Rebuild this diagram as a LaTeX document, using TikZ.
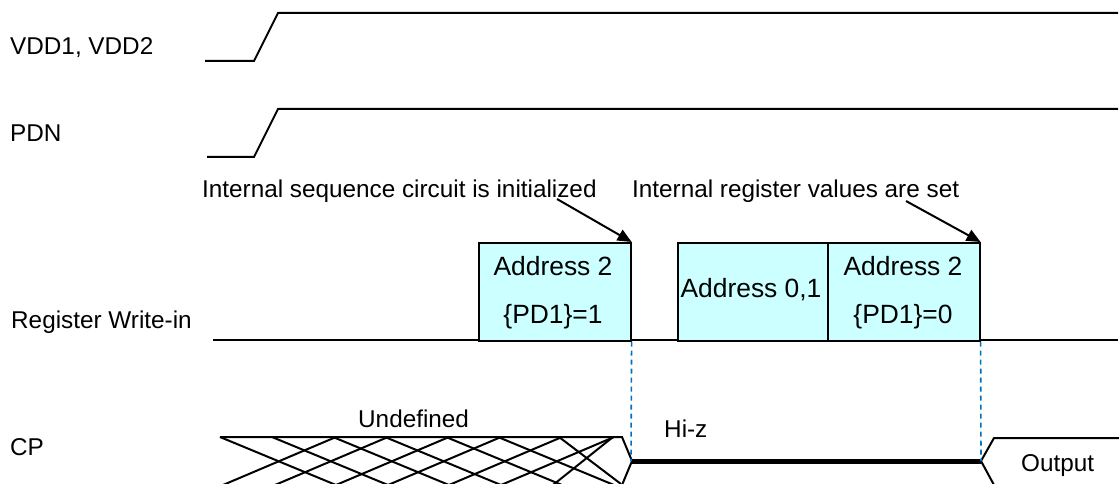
\documentclass[tikz,border=0pt]{standalone}
\usepackage{fontspec}
\setmainfont{Liberation Sans}
\usetikzlibrary{arrows.meta}
\definecolor{boxfill}{RGB}{204,255,255}
\definecolor{dashblue}{RGB}{0,112,192}
\begin{document}
\begin{tikzpicture}[x=1pt,y=-1pt,
 sig/.style={line width=2pt, line join=miter},
 lbl/.style={anchor=base west, inner sep=0pt, font=\fontsize{24.3}{28}\selectfont},
 btxt/.style={anchor=base, inner sep=0pt, font=\fontsize{26.4}{30}\selectfont},
 regbox/.style={draw, line width=1.6pt, fill=boxfill, inner sep=0pt, anchor=north west, minimum height=98pt},
 guide/.style={draw=dashblue, line width=1.6pt, dash pattern=on 5pt off 4pt},
 note/.style={line width=2pt, -{Triangle[length=14pt,width=12pt]}},
]
\useasboundingbox (0,0) rectangle (1119,484);
\fill[white] (0,0) rectangle (1119,484);

% labels
\node[lbl] (lvdd) at (10,55) {VDD1, VDD2};
\node[lbl] (lpdn) at (10,142) {PDN};
\node[lbl] (lreg) at (11,328) {Register Write-in};
\node[lbl] (lcp) at (10,455) {CP};

% supply and PDN waveforms
\draw[sig] (205,61) -- (254,61) -- (278,13) -- (1118,13);
\draw[sig] (207,157) -- (254,157) -- (278,109) -- (1118,109);

% register write-in
\draw[sig] (213,340) -- (1118,340);
\node[regbox, minimum width=152pt] (b1) at (478,242) {};
\node[regbox, minimum width=150pt] (b2) at (677,242) {};
\node[regbox, minimum width=152pt] (b3) at (827,242) {};
\node[btxt] (t1a) at (553,275) {Address 2};
\node[btxt] (t1b) at (553,323) {\{PD1\}=1};
\node[btxt] (t2) at (751,297) {Address 0,1};
\node[btxt] (t3a) at (903,275) {Address 2};
\node[btxt] (t3b) at (903,323) {\{PD1\}=0};

% annotations
\node[lbl] (n1) at (202,197) {Internal sequence circuit is initialized};
\node[lbl] (n2) at (632,197) {Internal register values are set};
\coordinate (a1) at (557,199);
\coordinate (a2) at (906,201);
\draw[note] (a1) -- (b1.north east);
\draw[note] (a2) -- (b3.north east);

% CP: undefined region (pairs of crossing lines)
\foreach \m in {0,1,2} {
  \draw[sig] (220+113*\m,437) -- (336+113*\m,485);
  \draw[sig] (272+113*\m,437) -- (388+113*\m,485);
  \draw[sig] (223+113*\m,485) -- (336+113*\m,437);
  \draw[sig] (275+113*\m,485) -- (388+113*\m,437);
}
\draw[sig] (559,437) -- (621,484);
\draw[sig] (553,485) -- (613,437);
\draw[sig] (220,437) -- (622,437) -- (632,461) -- (622,485);
\coordinate (hz1) at (631,461);
\coordinate (hz2) at (981,461);
\draw[line width=5pt] (hz1) -- (hz2);
\draw[sig] (1119,438) -- (994,438) -- (hz2) -- (994,485);
\draw[guide] (b1.south east) -- (hz1);
\draw[guide] (b3.south east) -- (hz2);
\node[lbl] (lund) at (358,427) {Undefined};
\node[lbl] (lhz) at (664,437) {Hi-z};
\node[lbl] (lout) at (1021,471) {Output};
\end{tikzpicture}
\end{document}
